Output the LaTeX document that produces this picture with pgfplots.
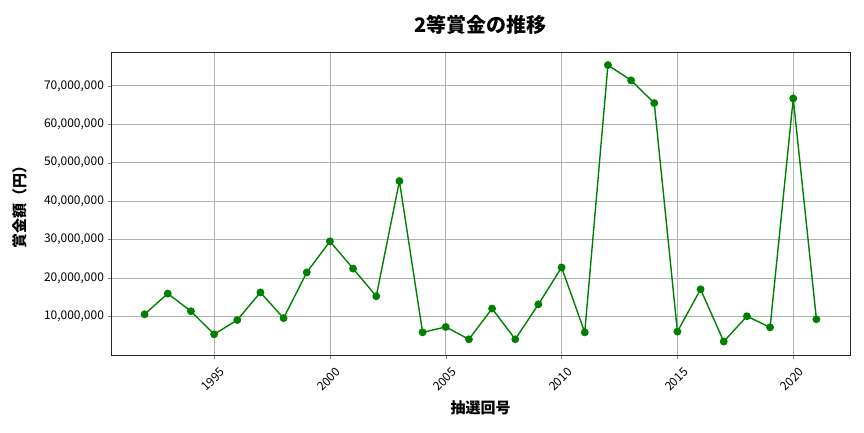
\documentclass[border=0pt]{standalone}
\usepackage{pgfplots}
\pgfplotsset{compat=1.18}
\usepackage{fontspec}
\setmainfont{Noto Sans CJK JP}
\begin{document}
\begin{tikzpicture}[x=1pt,y=1pt]
\path[use as bounding box] (-111,-77) rectangle (753,355);
\begin{axis}[
  at={(0,0)}, anchor=south west,
  scale only axis, width=739pt, height=303pt,
  xmin=1990.55, xmax=2022.45,
  ymin=-100000, ymax=78800000,
  xtick={1995,2000,2005,2010,2015,2020},
  ytick={10000000,20000000,30000000,40000000,50000000,60000000,70000000},
  scaled y ticks=false,
  /pgf/number format/.cd, assume math mode=true, 1000 sep={,}, fixed, precision=0,
  /pgfplots/.cd,
  xticklabel={\pgfmathprintnumber[1000 sep={},assume math mode=true]{\tick}},
  tick label style={font=\fontsize{12}{14}\selectfont},
  xticklabel style={yshift=-21pt, xshift=-1pt, rotate=45, anchor=center},
  tick align=outside, major tick length=3.5pt,
  xtick pos=bottom, ytick pos=left,
  grid=major, grid style={color=black!30, line width=0.6pt},
  axis line style={line width=0.8pt, black!85},
  title={\fontsize{20}{24}\selectfont\bfseries 2等賞金の推移},
  title style={yshift=8pt},
  xlabel={\fontsize{15}{18}\selectfont\bfseries 抽選回号},
  ylabel={\fontsize{15}{18}\selectfont\bfseries 賞金額（円）},
  xlabel style={yshift=0pt},
  ylabel style={yshift=10pt},
]
\addplot[color={rgb,255:red,0;green,128;blue,0}, line width=1.4pt, mark=*, mark size=3.2pt, mark options={solid}]
coordinates {
(1992,10500000) (1993,15900000) (1994,11300000) (1995,5300000) (1996,9000000)
(1997,16200000) (1998,9500000) (1999,21400000) (2000,29500000) (2001,22400000)
(2002,15200000) (2003,45200000) (2004,5800000) (2005,7200000) (2006,4000000)
(2007,12000000) (2008,4000000) (2009,13100000) (2010,22700000) (2011,5800000)
(2012,75400000) (2013,71400000) (2014,65500000) (2015,6000000) (2016,17000000)
(2017,3400000) (2018,10000000) (2019,7100000) (2020,66700000) (2021,9200000)
};
\end{axis}
\end{tikzpicture}
\end{document}
